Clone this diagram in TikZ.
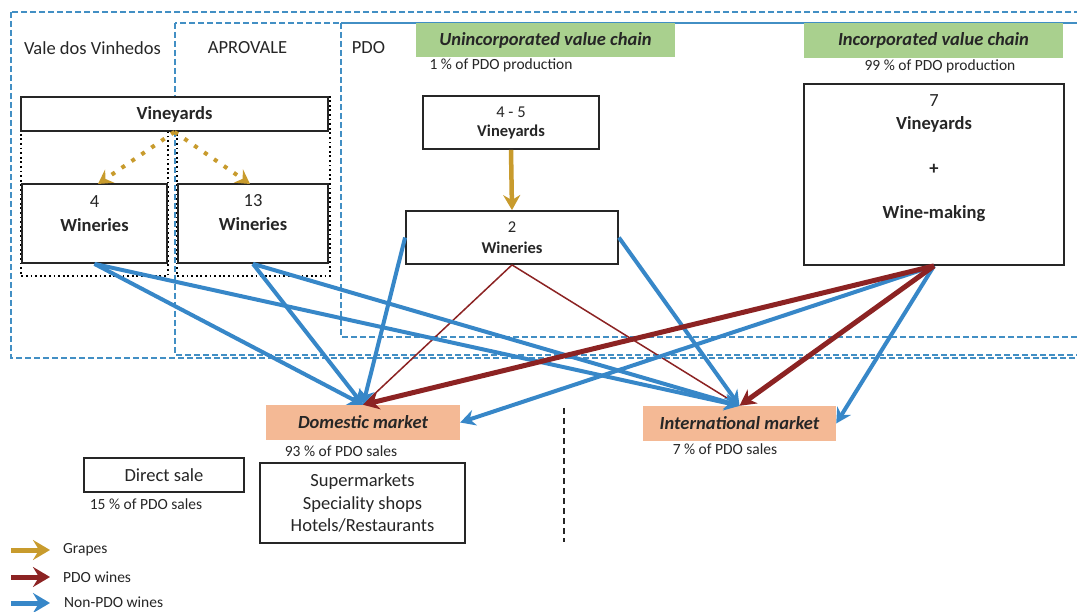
\documentclass[tikz,border=0pt]{standalone}
\usepackage{fontspec}
\setmainfont{Carlito}
\usetikzlibrary{arrows.meta}
\definecolor{frameblue}{RGB}{66,143,196}
\definecolor{arrblue}{RGB}{55,135,200}
\definecolor{pdored}{RGB}{140,35,35}
\definecolor{grapegold}{RGB}{200,155,45}
\definecolor{hdrgreen}{RGB}{169,208,142}
\definecolor{mktorange}{RGB}{244,185,149}
\definecolor{txt}{RGB}{38,38,38}
\begin{document}
\begin{tikzpicture}[x=1pt,y=-1pt,
  frame/.style={draw=frameblue, line width=2pt, dash pattern=on 6pt off 3pt},
  dotframe/.style={draw=black, line width=1.8pt, dash pattern=on 1.8pt off 2.8pt},
  box/.style={draw=txt, line width=1.8pt, fill=white, inner sep=0pt, text=txt},
  big/.style={text=txt, inner sep=0pt, font=\fontsize{18.5}{22.5}\selectfont},
  bigb/.style={text=txt, inner sep=0pt, font=\fontsize{18.5}{22.5}\selectfont\bfseries},
  midt/.style={text=txt, inner sep=0pt, font=\fontsize{16.5}{20}\selectfont},
  midb/.style={text=txt, inner sep=0pt, font=\fontsize{16.5}{20}\selectfont\bfseries},
  smallt/.style={text=txt, inner sep=0pt, font=\fontsize{15.5}{18}\selectfont},
  hdr/.style={fill=hdrgreen, inner sep=0pt, text=txt, font=\fontsize{18.5}{22}\selectfont\bfseries\itshape},
  mkt/.style={fill=mktorange, inner sep=0pt, text=txt, font=\fontsize{18.5}{22}\selectfont\bfseries\itshape},
  bluearr/.style={draw=arrblue, line width=4pt, -{Stealth[length=15pt,width=16pt,inset=5pt]}},
  redthick/.style={draw=pdored, line width=5pt, -{Stealth[length=16pt,width=17pt,inset=5pt]}},
  redthin/.style={draw=pdored, line width=1.5pt, -{Stealth[length=8pt,width=7pt,inset=2pt]}},
  goldarr/.style={draw=grapegold, line width=4.5pt, -{Stealth[length=15pt,width=17pt,inset=5pt]}},
  golddot/.style={draw=grapegold, line width=4pt, dash pattern=on 4pt off 8pt, -{Stealth[length=14pt,width=16pt,inset=5pt]}},
  legarr/.style={line width=5pt, -{Stealth[length=17pt,width=20pt,inset=6pt]}}
]
\useasboundingbox (0,0) rectangle (1077,612);
\fill[white] (0,0) rectangle (1077,612);

% dashed frames
\draw[frame] (11,12) rectangle (1095,358);
\draw[frame] (175,23) rectangle (1095,355);
\draw[frame] (341,23) rectangle (1095,337);
\node[big] (lvale) at (92.5,48) {Vale dos Vinhedos};
\node[big] (laprov) at (247.5,48) {APROVALE};
\node[big] (lpdo) at (368.5,48) {PDO};

% dotted groups
\draw[dotframe] (21,97) rectangle (168,276);
\draw[dotframe] (177,97) rectangle (330,276);

% boxes
\node[box, minimum width=307pt, minimum height=34pt, font=\fontsize{18.5}{22}\selectfont\bfseries] (vine) at (174.5,114) {Vineyards};
\node[box, minimum width=145pt, minimum height=79pt] (w4) at (94.5,223.5) {};
\node[big] (w4n) at (94.5,202) {4};
\node[bigb] (w4t) at (94.5,225) {Wineries};
\node[box, minimum width=150pt, minimum height=79pt] (w13) at (253,223.5) {};
\node[big] (w13n) at (253,201) {13};
\node[bigb] (w13t) at (253,224) {Wineries};

\node[hdr, minimum width=259pt, minimum height=34pt] (g1) at (545.5,40) {Unincorporated value chain};
\node[smallt] (g1t) at (501,65) {1 \% of PDO production};
\node[hdr, minimum width=259pt, minimum height=35pt] (g2) at (933.5,40.5) {Incorporated value chain};
\node[smallt] (g2t) at (940,66) {99 \% of PDO production};

\node[box, minimum width=176pt, minimum height=53pt] (v45) at (511,122.5) {};
\node[midt] (v45n) at (511,112) {4 - 5};
\node[midb] (v45t) at (511,132) {Vineyards};
\node[box, minimum width=212pt, minimum height=53pt] (w2) at (512,237.5) {};
\node[midt] (w2n) at (512,227) {2};
\node[midb] (w2t) at (512,248) {Wineries};

\node[box, minimum width=260pt, minimum height=181pt] (b7) at (934,174.5) {};
\node[big] (b7n) at (934,101) {7};
\node[bigb] (b7a) at (934,124.5) {Vineyards};
\node[bigb] (b7p) at (934,169.5) {+};
\node[bigb] (b7b) at (934,214) {Wine-making};

\node[mkt, minimum width=194pt, minimum height=35pt] (dom) at (363,422.5) {Domestic market};
\node[smallt] (domt) at (341,451) {93 \% of PDO sales};
\node[mkt, minimum width=193pt, minimum height=35pt] (intl) at (739.5,423.5) {International market};
\node[smallt] (intlt) at (725,449) {7 \% of PDO sales};

\node[box, minimum width=160pt, minimum height=34pt, font=\fontsize{18.5}{22}\selectfont] (direct) at (164,475) {Direct sale};
\node[smallt] (directt) at (146,504) {15 \% of PDO sales};
\node[box, minimum width=205pt, minimum height=80pt, align=center, font=\fontsize{18.5}{22.5}\selectfont] (shops) at (362.5,503) {Supermarkets\\Speciality shops\\Hotels/Restaurants};

% separator
\coordinate (sepa) at (564,408);
\coordinate (sepb) at (564,542);
\draw[txt, line width=2pt, dash pattern=on 6pt off 4pt] (sepa) -- (sepb);

% grape flows
\coordinate (g4tip) at (98,184);
\coordinate (g13tip) at (250,184);
\draw[golddot] (vine.south) -- (g4tip);
\draw[golddot] (vine.south) -- (g13tip);
\draw[goldarr] (v45.south) -- (w2.north);

% PDO wines
\draw[redthin] (w2.south) -- (dom.north);
\draw[redthin] (w2.south) -- (intl.north);

% non-PDO wines
\draw[bluearr] (w4.south) -- (dom.north);
\draw[bluearr] (w4.south) -- (intl.north);
\draw[bluearr] (w13.south) -- (dom.north);
\draw[bluearr] (w13.south) -- (intl.north);
\draw[bluearr] (w2.west) -- (dom.north);
\draw[bluearr] (w2.east) -- (intl.north);
\draw[bluearr] (b7.south) -- (dom.east);
\draw[bluearr] (b7.south) -- (intl.east);

\draw[redthick] (b7.south) -- (dom.north);
\draw[redthick] (b7.south) -- (intl.north);

% legend
\coordinate (la1) at (11,550); \coordinate (la2) at (50,550);
\coordinate (lb1) at (11,577); \coordinate (lb2) at (50,577);
\coordinate (lc1) at (11,603); \coordinate (lc2) at (50,603);
\draw[legarr, grapegold] (la1) -- (la2);
\draw[legarr, pdored] (lb1) -- (lb2);
\draw[legarr, arrblue] (lc1) -- (lc2);
\node[smallt, anchor=west] (lega) at (63,550) {Grapes};
\node[smallt, anchor=west] (legb) at (63,577) {PDO wines};
\node[smallt, anchor=west] (legc) at (64,602.5) {Non-PDO wines};
\end{tikzpicture}
\end{document}
